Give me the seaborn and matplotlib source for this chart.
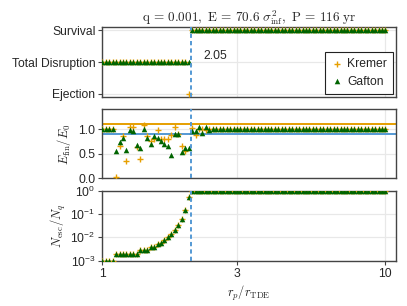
import numpy as np
import pandas as pd
import seaborn as sns
import matplotlib.pyplot as plt

# r_p / r_TDE grid (log spaced sampling of the runs)
rp = np.geomspace(1, 10, 83)

# outcome of each run
outcome_order = ["Ejection", "Total Disruption", "Survival"]
kremer_outcome = ["Total Disruption"] * 25 + ["Ejection"] + ["Survival"] * 57
gafton_outcome = ["Total Disruption"] * 26 + ["Survival"] * 57

# E_fin / E_0
kremer_e = ([1.0] * 4
            + [0.03, 0.66, 0.85, 0.36, 1.05, 1.04, 0.64, 0.39, 1.09, 0.86, 0.76,
               0.80, 0.97, 0.80, 0.80, 0.80, 0.87, 1.05, 0.90, 0.66, 0.55]
            + [np.nan]
            + [1.03, 0.87, 1.0, 1.0, 0.98, 1.0] + [1.0] * 51)
gafton_e = ([1.0] * 4
            + [0.56, 0.73, 0.82, 0.58, 0.97, 0.95, 0.67, 0.62, 1.0, 0.81, 0.69,
               0.86, 0.82, 0.75, 0.69, 0.66, 0.48, 0.90, 0.90, 0.54, 0.61, 0.61]
            + [0.96, 0.96, 1.05, 0.92, 1.05, 0.97] + [1.0] * 51)

# N_esc / N_q
gafton_n = ([0.001] * 4 + [0.002] * 7 + [0.003] * 3 + [0.004] * 2
            + [0.005, 0.006, 0.008, 0.01, 0.014, 0.02, 0.033, 0.062, 0.147, 0.54]
            + [1.0] * 57)
kremer_n = gafton_n[:25] + [0.54] + [1.0] * 57

r_cut = 2.05
e_hi, e_lo = 1.1, 0.9

orange = "#E69F00"
green = "#006400"
blue = "#5499d4"

sns.set_theme(style="white")
plt.rcParams["font.family"] = ["Liberation Sans", "DejaVu Sans"]
plt.rcParams["mathtext.fontset"] = "custom"
plt.rcParams["mathtext.rm"] = "Liberation Sans"
plt.rcParams["mathtext.it"] = "Liberation Sans:italic"

outcome_num = {k: i for i, k in enumerate(outcome_order)}
df = pd.DataFrame({
    "rp": rp,
    "k_out": [outcome_num[o] for o in kremer_outcome],
    "g_out": [outcome_num[o] for o in gafton_outcome],
    "k_e": kremer_e, "g_e": gafton_e,
    "k_n": kremer_n, "g_n": gafton_n,
})

fig = plt.figure(figsize=(4.07, 3.06), dpi=100)
L, W = 0.2514, 0.7216
ax1 = fig.add_axes([L, 0.684, W, 0.2288])
ax2 = fig.add_axes([L, 0.4173, W, 0.2255])
ax3 = fig.add_axes([L, 0.148, W, 0.2288])

fs = 8.7
for ax, (ky, gy) in zip([ax1, ax2, ax3], [("k_out", "g_out"), ("k_e", "g_e"), ("k_n", "g_n")]):
    ax.set_xscale("log")
    ax.grid(True, color="#e8e8e8", lw=0.9)
    ax.set_axisbelow(True)
    sns.scatterplot(data=df, x="rp", y=ky, ax=ax, marker="+", color=orange,
                    s=22, linewidth=1.0, zorder=3, legend=False)
    sns.scatterplot(data=df, x="rp", y=gy, ax=ax, marker="^", color=green,
                    s=16, linewidth=0, zorder=4, legend=False)
    ax.axvline(r_cut, color=blue, ls=(0, (2.2, 1.6)), lw=1.4, zorder=5)
    ax.set_xlim(1, 10.9)
    ax.set_xticks([1, 3, 10])
    ax.minorticks_off()
    ax.set_xlabel("")
    ax.set_ylabel("")
    for s in ax.spines.values():
        s.set_color("#444444")
        s.set_linewidth(1.0)
    ax.tick_params(axis="y", which="both", left=True, length=3, width=0.8,
                   color="#444444", labelsize=fs, pad=2)
    ax.tick_params(axis="x", which="both", bottom=False, labelbottom=False)

# top panel: outcome
ax1.set_ylim(-0.09, 2.12)
ax1.set_yticks([0, 1, 2])
ax1.set_yticklabels(outcome_order)
ax1.text(2.27, 1.2, "2.05", fontsize=fs, va="center", ha="left")
ax1.set_title(r"$\mathrm{q\,=\,0.001,\ E\,=\,70.6\ }\sigma^2_\mathrm{inf}\mathrm{,\ P\,=\,116\ yr}$",
              fontsize=9.5, math_fontfamily="cm", pad=3)
h1 = ax1.scatter([], [], marker="+", color=orange, s=22, linewidth=1.0)
h2 = ax1.scatter([], [], marker="^", color=green, s=16, linewidth=0)
leg = ax1.legend([h1, h2], ["Kremer", "Gafton"], loc="lower right", fontsize=fs,
                 frameon=True, fancybox=False, framealpha=1, edgecolor="#222222",
                 borderaxespad=0.25, handletextpad=0.3, borderpad=0.5,
                 labelspacing=0.45, handlelength=1.0)
leg.get_frame().set_linewidth(0.8)

# middle panel: energy ratio
ax2.axhline(e_hi, color=orange, lw=1.4, zorder=2)
ax2.axhline(e_lo, color=blue, lw=1.4, zorder=2)
ax2.set_ylim(0, 1.4)
ax2.set_yticks([0, 0.5, 1.0])
ax2.set_yticklabels(["0.0", "0.5", "1.0"])
ax2.set_ylabel(r"$E_\mathrm{fin}/E_0$", fontsize=9, math_fontfamily="cm", labelpad=4)

# bottom panel: escaping fraction
ax3.set_yscale("log")
ax3.set_ylim(1e-3, 1)
ax3.set_yticks([1e-3, 1e-2, 1e-1, 1])
ax3.set_yticklabels([r"$10^{-3}$", r"$10^{-2}$", r"$10^{-1}$", r"$10^{0}$"])
ax3.minorticks_off()
ax3.set_ylabel(r"$N_\mathrm{esc}/N_q$", fontsize=9, math_fontfamily="cm", labelpad=2)
ax3.tick_params(axis="x", bottom=True, labelbottom=True, length=3, width=0.8,
                color="#444444", labelsize=fs, pad=2)
ax3.set_xticklabels(["1", "3", "10"])
ax3.set_xlabel(r"$r_p/r_\mathrm{TDE}$", fontsize=9, math_fontfamily="cm", labelpad=3)

fig.savefig("out.png", dpi=100)
